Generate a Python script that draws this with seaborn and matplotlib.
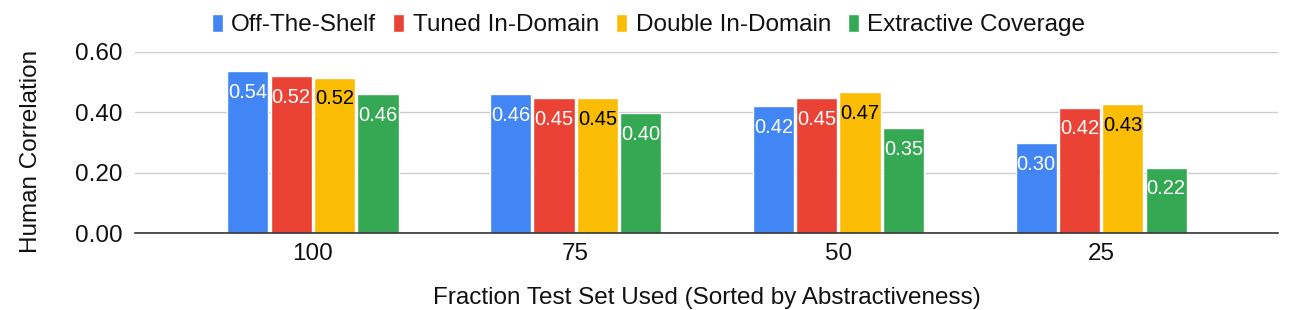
import matplotlib
matplotlib.use("Agg")
import matplotlib.pyplot as plt
import seaborn as sns
import pandas as pd

fractions = ["100", "75", "50", "25"]
series = ["Off-The-Shelf", "Tuned In-Domain", "Double In-Domain", "Extractive Coverage"]
off_the_shelf = [0.537, 0.460, 0.421, 0.298]
tuned_in_domain = [0.520, 0.447, 0.447, 0.416]
double_in_domain = [0.515, 0.446, 0.467, 0.427]
extractive_coverage = [0.460, 0.398, 0.347, 0.217]
yticks = [0.0, 0.2, 0.4, 0.6]

colors = ["#4285F4", "#EA4335", "#FBBC04", "#34A853"]
label_colors = ["white", "white", "black", "white"]

rows = []
for name, vals in zip(series, [off_the_shelf, tuned_in_domain, double_in_domain, extractive_coverage]):
    for f, v in zip(fractions, vals):
        rows.append({"fraction": f, "series": name, "corr": v})
df = pd.DataFrame(rows)

sns.set_style("white")
plt.rcParams["font.family"] = ["Liberation Sans", "DejaVu Sans"]

fig = plt.figure(figsize=(12.97, 3.10), dpi=100)
ax = fig.add_axes([135 / 1297, 77 / 310, (1278 - 135) / 1297, (233 - 52) / 310])

sns.barplot(data=df, x="fraction", y="corr", hue="series", order=fractions,
            hue_order=series, palette=colors, width=0.66, gap=0.05,
            saturation=1, errorbar=None, ax=ax)

# value labels inside the top of each bar
for container, tc in zip(ax.containers, label_colors):
    for p in container:
        h = p.get_height()
        ax.annotate(f"{h:.2f}", (p.get_x() + p.get_width() / 2, h),
                    xytext=(0, -8.5), textcoords="offset points",
                    ha="center", va="top", fontsize=14.5, color=tc)

ax.set_xlim(-0.677, 3.673)
ax.set_ylim(0, 0.6)
ax.set_yticks(yticks)
ax.set_yticklabels([f"{t:.2f}" for t in yticks])
ax.tick_params(axis="both", length=0, labelsize=17.5, colors="#111111")
ax.tick_params(axis="y", pad=9)
ax.tick_params(axis="x", pad=7)

ax.yaxis.grid(True, color="#cccccc", linewidth=1)
ax.set_axisbelow(True)
for s in ["top", "right", "left"]:
    ax.spines[s].set_visible(False)
ax.spines["bottom"].set_color("#333333")
ax.spines["bottom"].set_linewidth(1.2)

ax.set_ylabel("Human Correlation", fontsize=17.5, labelpad=24, color="#111111")
ax.yaxis.set_label_coords(-0.081, 0.45)
ax.set_xlabel("Fraction Test Set Used (Sorted by Abstractiveness)", fontsize=17.5,
              labelpad=16, color="#111111")

handles, labels = ax.get_legend_handles_labels()
ax.legend(handles, labels, loc="center", bbox_to_anchor=(0.5, 0.919),
          bbox_transform=fig.transFigure, ncol=4, frameon=False, fontsize=17.5,
          handlelength=0.45, handleheight=0.8, handletextpad=0.35,
          columnspacing=0.7, borderpad=0, labelcolor="#111111")

fig.savefig("out.png", dpi=100)
